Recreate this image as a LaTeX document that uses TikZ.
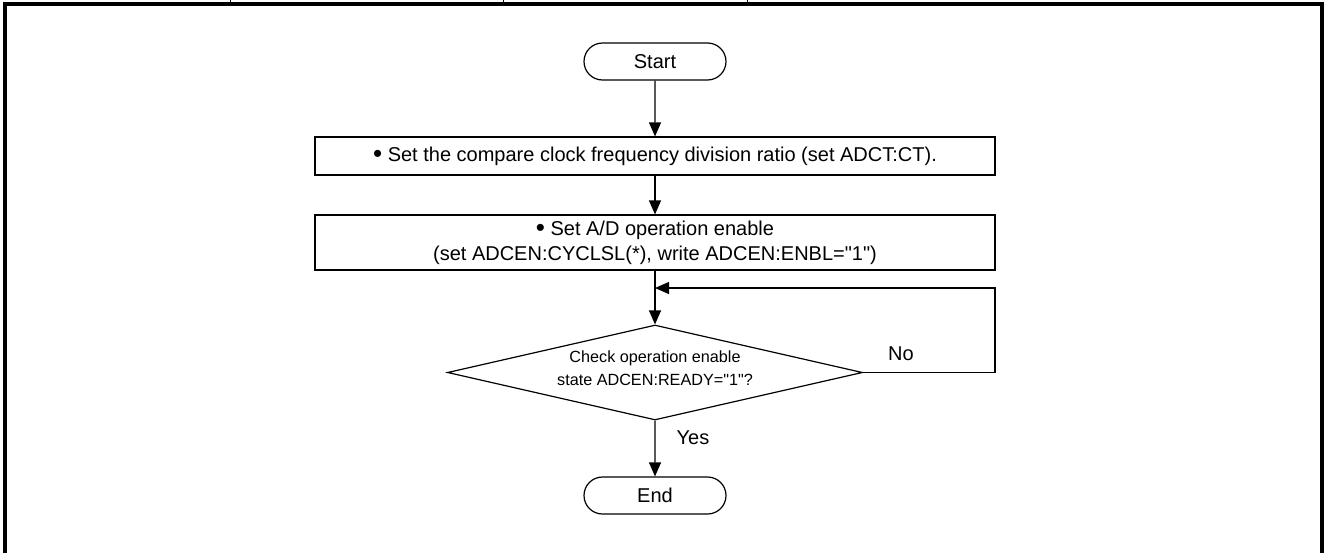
\documentclass[tikz,border=0pt]{standalone}
\usepackage{fontspec}
\setmainfont{Liberation Sans}[Ligatures=TeXOff]
\usepackage{tikz}
\usetikzlibrary{arrows.meta,positioning,shapes.geometric,shapes.misc}
\newcommand{\blt}{\raisebox{-0.08em}{\fontsize{13}{12}\selectfont\textbullet}}
\newcommand{\upby}[1]{\raisebox{1.5pt}[\height][\depth]{\begin{tabular}{@{}c@{}}#1\end{tabular}}}
\tikzset{
  box/.style={draw, line width=0.6pt, inner sep=2pt, font=\fontsize{10}{12.5}\selectfont, align=center},
  term/.style={box, rounded rectangle, minimum width=75pt, minimum height=18.5pt},
  proc/.style={box, rectangle, minimum width=340pt},
  dec/.style={box, diamond, aspect=4.4, inner sep=0pt, minimum width=207.5pt, minimum height=47.5pt, font=\fontsize{8.1}{11.5}\selectfont},
  flow/.style={-{Triangle[length=7pt,width=6pt]}, line width=0.6pt},
  lbl/.style={font=\fontsize{10}{12}\selectfont},
  frame/.style={line width=1.6pt},
}
\begin{document}
\begin{tikzpicture}[x=0.5pt,y=-0.5pt]
\useasboundingbox (0,0) rectangle (1328,552);
\draw[frame] (5,570) -- (5,4) -- (1322,4) -- (1322,570);
\foreach \tx in {230,503,747} \draw[line width=0.5pt] (\tx,0) -- (\tx,4);
\node[term] (st) at (655,61.5) {Start};
\node[proc, minimum height=19pt] (ct) at (655,156) {\blt{} Set the compare clock frequency division ratio (set ADCT:CT).};
\node[proc, minimum height=27.5pt] (en) at (655,242.5) {\blt{} Set A/D operation enable\\(set ADCEN:CYCLSL(*), write ADCEN:ENBL="1")};
\node[dec] (chk) at (655,372.5) {\upby{Check operation enable\\state ADCEN:READY="1"?}};
\node[term] (ed) at (655,495.5) {End};
\coordinate (jn) at (655,288);
\coordinate (lp) at (995,288);
\draw[flow] (st) -- (ct);
\draw[flow] (ct) -- (en);
\draw[flow] (en) -- (chk);
\draw[flow] (chk.east) -| (lp) -- (jn);
\draw[flow] (chk) -- (ed);
\node[lbl] (no) at (901,354) {No};
\node[lbl] (yes) at (693,438) {Yes};
\end{tikzpicture}
\end{document}
